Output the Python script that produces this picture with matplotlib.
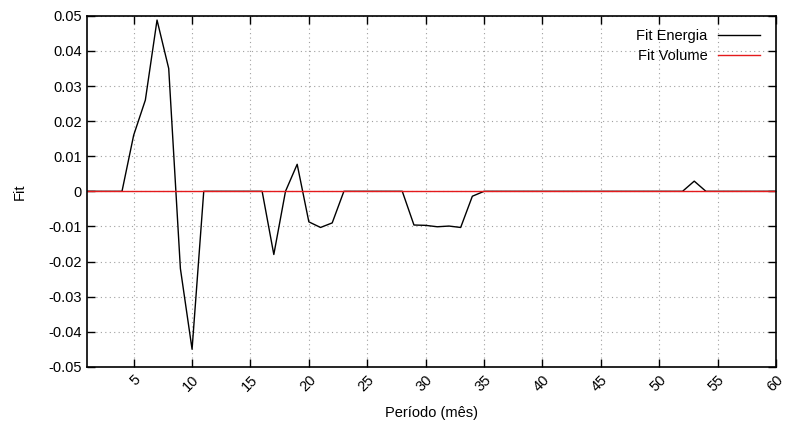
import numpy as np
import matplotlib.pyplot as plt

plt.rcParams['font.family'] = ['Liberation Sans', 'DejaVu Sans']

periodo = np.arange(1, 61)
fit_energia = [0, 0, 0, 0, 0.016, 0.026, 0.0488, 0.035, -0.022, -0.045,
               0, 0, 0, 0, 0, 0, -0.018, 0, 0.0077, -0.0087,
               -0.0103, -0.009, 0, 0, 0, 0, 0, 0, -0.0096, -0.0097,
               -0.0101, -0.0099, -0.0103, -0.0014, 0, 0, 0, 0, 0, 0,
               0, 0, 0, 0, 0, 0, 0, 0, 0, 0,
               0, 0, 0.0029, 0, 0, 0, 0, 0, 0, 0]
fit_volume = [0] * 60

xticks = [5, 10, 15, 20, 25, 30, 35, 40, 45, 50, 55, 60]
yticks = [-0.05, -0.04, -0.03, -0.02, -0.01, 0, 0.01, 0.02, 0.03, 0.04, 0.05]
ylabels = ['-0.05', '-0.04', '-0.03', '-0.02', '-0.01', '0',
           '0.01', '0.02', '0.03', '0.04', '0.05']

fs = 10.5
fig = plt.figure(figsize=(7.87, 4.28), dpi=100)
ax = fig.add_axes([0.1105, 0.143, 0.8755, 0.82])

ax.plot(periodo, fit_energia, color='black', lw=1, label='Fit Energia')
ax.plot(periodo, fit_volume, color='#e41a1c', lw=1, label='Fit Volume')

ax.set_xlim(1, 60)
ax.set_ylim(-0.05, 0.05)
ax.set_xticks(xticks)
ax.set_xticklabels([str(t) for t in xticks], rotation=45, ha='right',
                   rotation_mode='anchor', fontsize=fs)
ax.set_yticks(yticks)
ax.set_yticklabels(ylabels, fontsize=fs)
ax.tick_params(direction='in', top=True, right=True, length=6, width=1)
ax.tick_params(axis='x', pad=4)
ax.grid(True, color='#a0a0a0', linestyle=(0, (1, 3)), lw=0.8)
for s in ax.spines.values():
    s.set_linewidth(1.2)

ax.set_xlabel('Período (mês)', fontsize=fs, labelpad=9)
ax.set_ylabel('Fit', fontsize=fs, labelpad=16)

leg = ax.legend(loc='upper right', bbox_to_anchor=(0.977, 0.963),
                frameon=False, markerfirst=False, fontsize=fs,
                handlelength=2.9, handletextpad=0.7, borderaxespad=0,
                borderpad=0, labelspacing=0.45)
for t in leg.get_texts():
    t.set_ha('right')

fig.savefig('out.png', dpi=100)
